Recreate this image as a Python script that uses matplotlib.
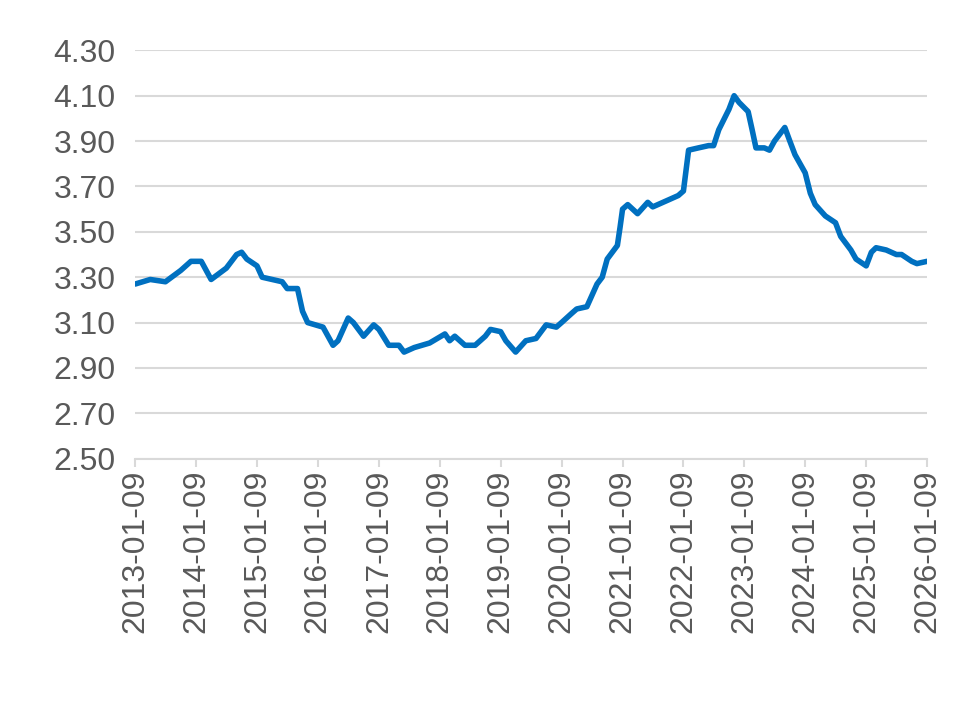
import numpy as np
import pandas as pd
import matplotlib.pyplot as plt
import matplotlib.dates as mdates

plt.rcParams['font.family'] = ['Liberation Sans', 'DejaVu Sans']

dates = ['2013-01-09', '2013-04-09', '2013-07-09', '2013-10-09', '2013-12-09', '2014-02-09',
         '2014-04-09', '2014-07-09', '2014-09-09', '2014-10-09', '2014-11-09', '2015-01-09',
         '2015-02-09', '2015-06-09', '2015-07-09', '2015-09-09', '2015-10-09', '2015-11-09',
         '2016-02-09', '2016-04-09', '2016-05-09', '2016-07-09', '2016-08-09', '2016-10-09',
         '2016-12-09', '2017-01-09', '2017-03-09', '2017-05-09', '2017-06-09', '2017-08-09',
         '2017-11-09', '2018-02-09', '2018-03-09', '2018-04-09', '2018-06-09', '2018-08-09',
         '2018-10-09', '2018-11-09', '2019-01-09', '2019-02-09', '2019-04-09', '2019-06-09',
         '2019-08-09', '2019-10-09', '2019-12-09', '2020-01-09', '2020-03-09', '2020-04-09',
         '2020-06-09', '2020-08-09', '2020-09-09', '2020-10-09', '2020-12-09', '2020-12-25',
         '2021-01-09', '2021-02-09', '2021-04-09', '2021-06-09', '2021-07-09', '2021-10-09',
         '2021-12-09', '2022-01-09', '2022-02-09', '2022-04-09', '2022-06-09', '2022-07-09',
         '2022-08-09', '2022-10-09', '2022-11-09', '2022-12-09', '2023-02-01', '2023-02-25',
         '2023-03-20', '2023-05-09', '2023-06-09', '2023-07-09', '2023-09-09', '2023-10-09',
         '2023-11-09', '2024-01-09', '2024-02-09', '2024-03-09', '2024-05-09', '2024-07-09',
         '2024-08-09', '2024-10-09', '2024-11-09', '2025-01-09', '2025-02-09', '2025-03-09',
         '2025-05-09', '2025-07-09', '2025-08-09', '2025-10-09', '2025-11-09', '2026-01-09']
values = [3.27, 3.29, 3.28, 3.33, 3.37, 3.37, 3.29, 3.34, 3.40, 3.41, 3.38, 3.35,
          3.30, 3.28, 3.25, 3.25, 3.15, 3.10, 3.08, 3.00, 3.02, 3.12, 3.10, 3.04,
          3.09, 3.07, 3.00, 3.00, 2.97, 2.99, 3.01, 3.05, 3.02, 3.04, 3.00, 3.00,
          3.04, 3.07, 3.06, 3.02, 2.97, 3.02, 3.03, 3.09, 3.08, 3.10, 3.14, 3.16,
          3.17, 3.27, 3.30, 3.38, 3.44, 3.52, 3.60, 3.62, 3.58, 3.63, 3.61, 3.64,
          3.66, 3.68, 3.86, 3.87, 3.88, 3.88, 3.95, 4.04, 4.10, 4.07, 4.03, 3.95,
          3.87, 3.87, 3.86, 3.90, 3.96, 3.90, 3.84, 3.76, 3.67, 3.62, 3.57, 3.54,
          3.48, 3.42, 3.38, 3.35, 3.41, 3.43, 3.42, 3.40, 3.40, 3.37, 3.36, 3.37]
tick_dates = ['%d-01-09' % y for y in range(2013, 2027)]
yticks = [2.50, 2.70, 2.90, 3.10, 3.30, 3.50, 3.70, 3.90, 4.10, 4.30]

x = pd.to_datetime(dates)
fig = plt.figure(figsize=(9.8, 7.19), dpi=100)
ax = fig.add_axes([0.138, 0.362, 0.808, 0.568])
ax.plot(x, values, color='#0070C0', lw=4, solid_capstyle='round')

ax.set_ylim(2.50, 4.30)
ax.set_yticks(yticks)
ax.set_yticklabels(['%.2f' % v for v in yticks])
ax.set_xlim(pd.Timestamp(tick_dates[0]), pd.Timestamp(tick_dates[-1]))
ax.set_xticks(pd.to_datetime(tick_dates))
ax.xaxis.set_major_formatter(mdates.DateFormatter('%Y-%m-%d'))
ax.grid(axis='y', color='#D9D9D9', lw=1.5)
ax.set_axisbelow(True)
for s in ['top', 'right', 'left']:
    ax.spines[s].set_visible(False)
ax.spines['bottom'].set_color('#D9D9D9')
ax.spines['bottom'].set_linewidth(1.5)
ax.tick_params(axis='y', length=0, labelsize=23, labelcolor='#595959', pad=14)
ax.tick_params(axis='x', length=6, color='#D9D9D9', width=1.5, labelsize=23,
               labelcolor='#595959', labelrotation=90, pad=2)
fig.savefig('out.png', dpi=100)
